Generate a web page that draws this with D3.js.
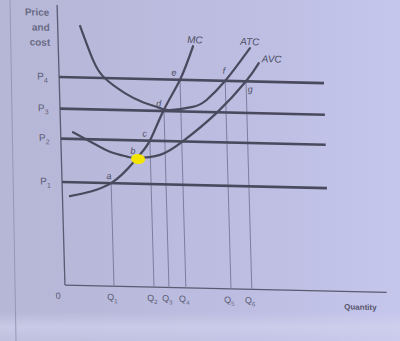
<!DOCTYPE html>
<html>
<head>
<meta charset="utf-8">
<script src="https://cdn.jsdelivr.net/npm/d3@7"></script>
<style>
  body { margin: 0; background: #bbbde0; }
  svg text { font-family: "Liberation Sans", Arial, sans-serif; }
</style>
</head>
<body>
<svg id="chart" width="400" height="341"></svg>
<script>
// price levels (P1..P4) and quantities (Q1..Q6), in chart units
var priceNames = ["1", "2", "3", "4"];
var priceValues = [36.8, 52.3, 63.0, 74.3];
var qtyNames = ["1", "2", "3", "4", "5", "6"];
var qtyValues = [15.1, 27.4, 32, 37.2, 51.1, 57.5];

// curves: [quantity, price]
var mc = [[2.3, 31.8], [15.1, 36.8], [23.3, 46], [27.4, 52.3], [32, 63.5], [37.2, 74.3], [41.5, 86.4]];
var atc = [[6.9, 92.7], [10.6, 80.6], [14, 74.3], [20.1, 69.1], [25.6, 66], [30.8, 64], [33.8, 63.4], [40.9, 64.7], [45.2, 67.3], [51.1, 74.3], [59, 86.2]];
var avc = [[3.8, 54.7], [9.8, 51], [15, 48], [20.2, 46.4], [23.3, 46], [30.4, 47.3], [37.5, 52.3], [48.2, 62.8], [57.5, 74.3], [61.6, 80.9]];

// intersection letters: [label, quantity, price, dx, dy]
var points = [
  ["a", 15.1, 36.8, -2, -4],
  ["b", 23.3, 46, -4, -4],
  ["c", 27.4, 52.3, -5, -4],
  ["d", 32, 63.5, -5, -3],
  ["e", 37.2, 74.3, -6, -4],
  ["f", 51.1, 74.3, -1, -7],
  ["g", 57.5, 74.3, 4, 11]
];

var svg = d3.select("#chart");

// paper background
var defs = svg.append("defs");
var grad = defs.append("linearGradient").attr("id", "paper")
    .attr("x1", "0").attr("x2", "1").attr("y1", "0").attr("y2", "0");
grad.append("stop").attr("offset", "0").attr("stop-color", "#b6b7d6");
grad.append("stop").attr("offset", "0.6").attr("stop-color", "#bcbde1");
grad.append("stop").attr("offset", "1").attr("stop-color", "#c5c6ec");
var low = defs.append("linearGradient").attr("id", "low")
    .attr("x1", "0").attr("x2", "0").attr("y1", "0").attr("y2", "1");
low.append("stop").attr("offset", "0").attr("stop-color", "#d4d5ee").attr("stop-opacity", 0);
low.append("stop").attr("offset", "0.5").attr("stop-color", "#d4d5ee").attr("stop-opacity", 0.6);
low.append("stop").attr("offset", "1").attr("stop-color", "#d4d5ee").attr("stop-opacity", 0.3);
svg.append("rect").attr("width", 400).attr("height", 341).attr("fill", "url(#paper)");
svg.append("rect").attr("y", 312).attr("width", 400).attr("height", 29).attr("fill", "url(#low)");

// page edge
svg.append("line").attr("x1", 10).attr("y1", 0).attr("x2", 16).attr("y2", 341)
    .attr("stroke", "#9597b8").attr("stroke-width", 1);

// the photo is a bit skewed, so shear the whole drawing
var g = svg.append("g")
    .attr("transform", "translate(60,180) matrix(1,0.023,0.028,1,0,0) translate(-60,-180)");

var x = d3.scaleLinear().domain([0, 100]).range([62, 387]);
var y = d3.scaleLinear().domain([0, 100]).range([285, 5]);

var ink = "#4a4a5e";

// axes
g.append("line").attr("x1", x(0)).attr("y1", y(100)).attr("x2", x(0)).attr("y2", y(0))
    .attr("stroke", "#5a5a72").attr("stroke-width", 1.3);
g.append("line").attr("x1", x(0)).attr("y1", y(0)).attr("x2", x(99)).attr("y2", y(0))
    .attr("stroke", "#5a5a72").attr("stroke-width", 1.3);

// quantity guide lines (up to the point they come from)
var qTops = [36.8, 52.3, 63.5, 74.3, 74.3, 74.3];
g.selectAll(".qline").data(qtyValues).enter().append("line")
    .attr("x1", function (d) { return x(d); })
    .attr("x2", function (d) { return x(d); })
    .attr("y1", function (d, i) { return y(qTops[i]); })
    .attr("y2", y(0))
    .attr("stroke", "#7c7e9e").attr("stroke-width", 1);

// price lines
g.selectAll(".pline").data(priceValues).enter().append("line")
    .attr("x1", x(0)).attr("x2", x(81.5))
    .attr("y1", function (d) { return y(d); })
    .attr("y2", function (d) { return y(d); })
    .attr("stroke", ink).attr("stroke-width", 2.6);

// cost curves
var line = d3.line()
    .x(function (d) { return x(d[0]); })
    .y(function (d) { return y(d[1]); })
    .curve(d3.curveNatural);

[mc, atc, avc].forEach(function (c) {
    g.append("path").attr("d", line(c))
        .attr("fill", "none").attr("stroke", ink).attr("stroke-width", 2.2)
        .attr("stroke-linecap", "round");
});

// curve names
var names = [["MC", mc, 2, -3], ["ATC", atc, 0, -3], ["AVC", avc, 13, -1]];
names.forEach(function (n) {
    var last = n[1][n[1].length - 1];
    g.append("text")
        .attr("x", x(last[0]) + n[2]).attr("y", y(last[1]) + n[3])
        .attr("text-anchor", "middle")
        .attr("font-size", 10).attr("font-style", "italic")
        .attr("fill", "#4e4e64").text(n[0]);
});

// highlight at b
g.append("ellipse").attr("cx", x(23.3) + 1).attr("cy", y(46) + 1)
    .attr("rx", 7).attr("ry", 5).attr("fill", "#f3e500");

// intersection letters
g.selectAll(".pt").data(points).enter().append("text")
    .attr("x", function (d) { return x(d[1]) + d[3]; })
    .attr("y", function (d) { return y(d[2]) + d[4]; })
    .attr("text-anchor", "middle")
    .attr("font-size", 9).attr("font-style", "italic")
    .attr("fill", "#4e4e64")
    .text(function (d) { return d[0]; });

// price labels
priceValues.forEach(function (p, i) {
    var t = g.append("text").attr("x", 40).attr("y", y(p) + 3)
        .attr("font-size", 10).attr("fill", "#5c5c74");
    t.append("tspan").text("P");
    t.append("tspan").attr("font-size", 7).attr("dy", 3).text(priceNames[i]);
});

// quantity labels
qtyValues.forEach(function (q, i) {
    var t = g.append("text").attr("x", x(q) - 2).attr("y", 299)
        .attr("text-anchor", "middle")
        .attr("font-size", 9).attr("fill", "#5c5c74");
    t.append("tspan").text("Q");
    t.append("tspan").attr("font-size", 6).attr("dy", 3).text(qtyNames[i]);
});

g.append("text").attr("x", 55).attr("y", 299).attr("text-anchor", "middle")
    .attr("font-size", 9).attr("fill", "#5c5c74").text("0");

g.append("text").attr("x", 357).attr("y", 303).attr("text-anchor", "middle")
    .attr("font-size", 8).attr("font-weight", "bold").attr("fill", "#55556c").text("Quantity");

// y axis title
["Price", "and", "cost"].forEach(function (w, i) {
    g.append("text").attr("x", 54).attr("y", 16 + i * 15)
        .attr("text-anchor", "end")
        .attr("font-size", 10).attr("font-weight", "bold").attr("fill", "#6a6a84").text(w);
});
</script>
</body>
</html>
